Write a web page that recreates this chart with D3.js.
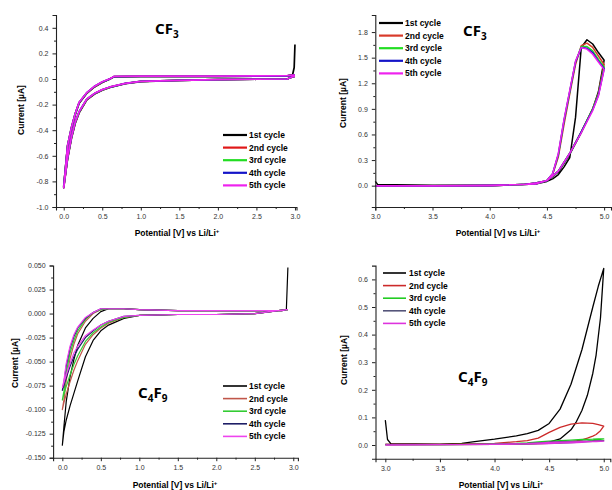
<!DOCTYPE html>
<html>
<head>
<meta charset="utf-8">
<script src="https://cdn.jsdelivr.net/npm/d3@7"></script>
<style>
body { margin: 0; background: #fff; }
</style>
</head>
<body>
<div id="chart"></div>
<script>
// cycle names shared by all four panels
var cycleNames = ["1st cycle", "2nd cycle", "3rd cycle", "4th cycle", "5th cycle"];

// CF3, reduction sweep 3.0 -> 0.0 -> 3.0 V
var cf3RedV = [3.0, 2.98, 2.9, 2.5, 2.0, 1.5, 1.0, 0.8, 0.6, 0.5, 0.4, 0.3, 0.2, 0.15, 0.1, 0.05, 0.0,
               0.05, 0.1, 0.15, 0.2, 0.3, 0.4, 0.5, 0.6, 0.65, 1.0, 1.5, 2.0, 2.5, 2.9, 2.97, 2.99, 3.0];
var cf3RedI1 = [0.02, 0.02, 0.0, -0.002, -0.005, -0.01, -0.02, -0.036, -0.066, -0.087, -0.117, -0.163, -0.265, -0.345, -0.465, -0.625, -0.85,
                -0.53, -0.39, -0.28, -0.19, -0.112, -0.062, -0.027, 0.0, 0.017, 0.02, 0.02, 0.02, 0.022, 0.025, 0.035, 0.09, 0.27];
var cf3RedI2 = [0.02, 0.02, 0.0, -0.002, -0.005, -0.01, -0.019, -0.035, -0.064, -0.085, -0.115, -0.16, -0.26, -0.34, -0.46, -0.62, -0.84,
                -0.52, -0.38, -0.27, -0.185, -0.11, -0.06, -0.025, 0.0, 0.018, 0.02, 0.02, 0.02, 0.022, 0.025, 0.028, 0.03, 0.03];
var cf3RedI3 = [0.02, 0.02, 0.0, -0.002, -0.005, -0.01, -0.019, -0.035, -0.064, -0.085, -0.114, -0.158, -0.258, -0.338, -0.458, -0.618, -0.84,
                -0.52, -0.38, -0.27, -0.184, -0.108, -0.058, -0.024, 0.0, 0.018, 0.02, 0.02, 0.02, 0.022, 0.025, 0.028, 0.03, 0.03];
var cf3RedI4 = [0.02, 0.02, 0.0, -0.002, -0.005, -0.01, -0.019, -0.034, -0.063, -0.084, -0.113, -0.157, -0.256, -0.336, -0.456, -0.616, -0.84,
                -0.52, -0.38, -0.27, -0.183, -0.107, -0.057, -0.023, 0.001, 0.018, 0.02, 0.02, 0.02, 0.022, 0.025, 0.028, 0.03, 0.03];
var cf3RedI5 = [0.02, 0.02, 0.0, -0.002, -0.005, -0.01, -0.018, -0.034, -0.062, -0.083, -0.112, -0.156, -0.255, -0.335, -0.455, -0.615, -0.85,
                -0.52, -0.38, -0.27, -0.182, -0.106, -0.056, -0.022, 0.002, 0.02, 0.022, 0.022, 0.022, 0.024, 0.027, 0.03, 0.03, 0.03];

// CF3, oxidation sweep 3.0 -> 5.0 -> 3.0 V
var cf3OxV = [3.0, 3.02, 3.5, 4.0, 4.3, 4.4, 4.5, 4.6, 4.7, 4.8, 4.9, 4.95, 5.0,
              4.95, 4.9, 4.85, 4.8, 4.75, 4.7, 4.65, 4.6, 4.55, 4.5, 4.4, 4.0, 3.5, 3.0];
var cf3OxI1 = [0.05, 0.015, 0.005, 0.006, 0.015, 0.028, 0.055, 0.16, 0.37, 0.62, 0.9, 1.1, 1.47,
               1.56, 1.66, 1.71, 1.62, 0.8, 0.33, 0.22, 0.13, 0.08, 0.05, 0.02, 0.0, -0.003, -0.005];
var cf3OxI2 = [0.0, 0.0, 0.0, 0.005, 0.015, 0.03, 0.058, 0.17, 0.38, 0.63, 0.9, 1.08, 1.42,
               1.52, 1.62, 1.67, 1.64, 1.42, 1.08, 0.72, 0.34, 0.13, 0.06, 0.02, 0.0, -0.004, -0.005];
var cf3OxI3 = [0.0, 0.0, 0.0, 0.005, 0.015, 0.03, 0.058, 0.17, 0.38, 0.63, 0.9, 1.07, 1.39,
               1.48, 1.58, 1.63, 1.63, 1.45, 1.1, 0.76, 0.36, 0.14, 0.06, 0.02, 0.0, -0.004, -0.005];
var cf3OxI4 = [0.0, 0.0, 0.0, 0.005, 0.015, 0.03, 0.058, 0.17, 0.38, 0.63, 0.89, 1.06, 1.37,
               1.46, 1.56, 1.61, 1.62, 1.45, 1.11, 0.77, 0.37, 0.14, 0.06, 0.02, 0.0, -0.004, -0.005];
var cf3OxI5 = [0.0, 0.0, 0.0, 0.005, 0.015, 0.03, 0.06, 0.17, 0.38, 0.62, 0.88, 1.05, 1.36,
               1.45, 1.54, 1.6, 1.62, 1.46, 1.12, 0.78, 0.38, 0.14, 0.06, 0.02, 0.0, -0.004, -0.005];

// C4F9, reduction sweep ~2.93 -> 0.0 -> 2.93 V
var c4f9RedV = [2.93, 2.91, 2.5, 2.0, 1.5, 1.0, 0.8, 0.6, 0.5, 0.4, 0.3, 0.2, 0.15, 0.1, 0.05, 0.02, 0.0,
                0.02, 0.05, 0.1, 0.15, 0.2, 0.3, 0.4, 0.5, 0.6, 0.8, 1.0, 1.5, 2.0, 2.5, 2.85, 2.91, 2.93];
var c4f9RedI1 = [0.048, 0.004, 0.0, -0.001, -0.001, -0.002, -0.005, -0.012, -0.018, -0.028, -0.045, -0.07, -0.083, -0.096, -0.111, -0.123, -0.137,
                 -0.118, -0.092, -0.066, -0.048, -0.033, -0.015, -0.005, 0.002, 0.005, 0.005, 0.004, 0.003, 0.003, 0.003, 0.003, 0.004, 0.004];
var c4f9RedI2 = [0.004, 0.004, 0.0, -0.001, -0.001, -0.002, -0.004, -0.01, -0.015, -0.022, -0.032, -0.049, -0.059, -0.071, -0.084, -0.093, -0.1,
                 -0.09, -0.07, -0.047, -0.032, -0.021, -0.008, 0.0, 0.004, 0.005, 0.005, 0.004, 0.003, 0.003, 0.003, 0.003, 0.004, 0.004];
var c4f9RedI3 = [0.004, 0.004, 0.0, -0.001, -0.001, -0.002, -0.004, -0.009, -0.014, -0.02, -0.029, -0.044, -0.053, -0.064, -0.076, -0.084, -0.09,
                 -0.081, -0.062, -0.041, -0.028, -0.018, -0.006, 0.001, 0.004, 0.005, 0.005, 0.004, 0.003, 0.003, 0.003, 0.003, 0.004, 0.004];
var c4f9RedI4 = [0.004, 0.004, 0.0, -0.001, -0.001, -0.002, -0.003, -0.008, -0.012, -0.018, -0.025, -0.037, -0.045, -0.055, -0.067, -0.075, -0.08,
                 -0.072, -0.055, -0.036, -0.024, -0.015, -0.005, 0.001, 0.005, 0.005, 0.005, 0.004, 0.003, 0.003, 0.003, 0.003, 0.004, 0.004];
var c4f9RedI5 = [0.004, 0.004, 0.0, -0.001, -0.001, -0.002, -0.003, -0.008, -0.012, -0.017, -0.023, -0.034, -0.041, -0.052, -0.064, -0.072, -0.077,
                 -0.07, -0.052, -0.034, -0.022, -0.014, -0.004, 0.001, 0.005, 0.005, 0.005, 0.004, 0.003, 0.003, 0.003, 0.003, 0.004, 0.004];

// C4F9, oxidation sweep 3.0 -> 5.0 -> 3.0 V
var c4f9OxV = [3.0, 3.02, 3.05, 3.5, 3.7, 3.8, 4.0, 4.2, 4.3, 4.4, 4.5, 4.6, 4.7, 4.8, 4.9, 4.95, 5.0,
               4.97, 4.93, 4.9, 4.85, 4.8, 4.75, 4.7, 4.6, 4.5, 4.4, 4.2, 4.0, 3.5, 3.0];
var c4f9OxI1 = [0.09, 0.02, 0.005, 0.003, 0.006, 0.011, 0.021, 0.033, 0.041, 0.053, 0.078, 0.13, 0.22, 0.345, 0.5, 0.575, 0.64,
                0.46, 0.326, 0.26, 0.18, 0.125, 0.085, 0.055, 0.022, 0.01, 0.006, 0.004, 0.003, 0.002, 0.002];
var c4f9OxI2 = [0.002, 0.002, 0.002, 0.002, 0.003, 0.004, 0.006, 0.012, 0.016, 0.025, 0.046, 0.064, 0.076, 0.08, 0.078, 0.074, 0.068,
                0.052, 0.038, 0.032, 0.025, 0.019, 0.015, 0.012, 0.009, 0.006, 0.005, 0.003, 0.002, 0.001, 0.001];
var c4f9OxI3 = [0.001, 0.001, 0.001, 0.001, 0.002, 0.002, 0.004, 0.006, 0.008, 0.011, 0.014, 0.016, 0.018, 0.02, 0.021, 0.022, 0.022,
                0.02, 0.018, 0.016, 0.014, 0.013, 0.012, 0.011, 0.009, 0.007, 0.006, 0.004, 0.003, 0.001, 0.001];
var c4f9OxI4 = [0.001, 0.001, 0.001, 0.001, 0.001, 0.002, 0.003, 0.005, 0.006, 0.008, 0.01, 0.012, 0.013, 0.014, 0.015, 0.016, 0.016,
                0.015, 0.014, 0.013, 0.012, 0.011, 0.01, 0.009, 0.007, 0.006, 0.005, 0.003, 0.002, 0.001, 0.001];
var c4f9OxI5 = [0.0, 0.0, 0.0, 0.001, 0.001, 0.002, 0.003, 0.004, 0.005, 0.007, 0.009, 0.01, 0.011, 0.012, 0.013, 0.014, 0.014,
                0.013, 0.012, 0.012, 0.011, 0.01, 0.009, 0.008, 0.007, 0.005, 0.004, 0.003, 0.002, 0.001, 0.0];

// axis ticks
var xTicksRed = [0.0, 0.5, 1.0, 1.5, 2.0, 2.5, 3.0];
var xTicksOx = [3.0, 3.5, 4.0, 4.5, 5.0];
var yTicksP1 = [-1.0, -0.8, -0.6, -0.4, -0.2, 0.0, 0.2, 0.4];
var yTicksP2 = [0.0, 0.3, 0.6, 0.9, 1.2, 1.5, 1.8];
var yTicksP3 = [-0.15, -0.125, -0.1, -0.075, -0.05, -0.025, 0.0, 0.025, 0.05];
var yTicksP4 = [0.0, 0.1, 0.2, 0.3, 0.4, 0.5, 0.6];

var svg = d3.select("#chart").append("svg")
	.attr("width", 612)
	.attr("height", 490)
	.style("font-family", "'Liberation Sans', Arial, sans-serif");

var panels = [
	{ v: cf3RedV, cur: [cf3RedI1, cf3RedI2, cf3RedI3, cf3RedI4, cf3RedI5],
	  xd: [-0.1, 3.02], xr: [56, 296.5], yd: [-1.0, 0.5], yr: [207, 15],
	  xt: xTicksRed, xm: 0.25, yt: yTicksP1, ym: 0.1, fmt: 1,
	  colors: ["#000000", "#e01818", "#22dd22", "#1414c8", "#ee22ee"], lw: 1.7, legW: 2.2,
	  title: ["CF", "3"], tx: 155, ty: 34,
	  leg: [223, 247, 249, 135], xl: [177, 233], yl: [21, 110] },
	{ v: cf3OxV, cur: [cf3OxI1, cf3OxI2, cf3OxI3, cf3OxI4, cf3OxI5],
	  xd: [3.0, 5.06], xr: [375.3, 611], yd: [-0.25, 2.0], yr: [207, 15],
	  xt: xTicksOx, xm: 0.25, yt: yTicksP2, ym: 0.15, fmt: 1,
	  colors: ["#000000", "#d83a2a", "#22dd22", "#1414c8", "#ee22ee"], lw: 1.5, legW: 2.2,
	  title: ["CF", "3"], tx: 463, ty: 36,
	  leg: [379, 403, 405, 23], xl: [498, 233], yl: [343, 103] },
	{ v: c4f9RedV, cur: [c4f9RedI1, c4f9RedI2, c4f9RedI3, c4f9RedI4, c4f9RedI5],
	  xd: [-0.12, 3.06], xr: [53.1, 297.9], yd: [-0.15, 0.05], yr: [457.7, 265.5],
	  xt: xTicksRed, xm: 0.25, yt: yTicksP3, ym: 0.0125, fmt: 3,
	  colors: ["#000000", "#c0564a", "#33cc33", "#1e1e66", "#ee44ee"], lw: 1.2, legW: 1.6,
	  title: ["C", "4", "F", "9"], tx: 138, ty: 398,
	  leg: [223, 247, 249, 386], xl: [175, 485], yl: [15, 363] },
	{ v: c4f9OxV, cur: [c4f9OxI1, c4f9OxI2, c4f9OxI3, c4f9OxI4, c4f9OxI5],
	  xd: [2.91, 5.06], xr: [375.5, 610.3], yd: [-0.05, 0.65], yr: [458.8, 265.6],
	  xt: xTicksOx, xm: 0.25, yt: yTicksP4, ym: 0.05, fmt: 1,
	  colors: ["#000000", "#cc2a2a", "#22cc22", "#55557a", "#dd33dd"], lw: 1.3, legW: 1.6,
	  title: ["C", "4", "F", "9"], tx: 458, ty: 382,
	  leg: [383, 406, 409, 273], xl: [501, 485], yl: [344, 360] }
];

// minor ticks between the majors
function minorTicks(major, step) {
	var out = [];
	for (var i = 0; i < major.length - 1; i++) {
		out.push(major[i] + step);
		if (Math.abs(major[i + 1] - major[i] - 2 * step) > 1e-9) out.push(major[i] + 2 * step);
	}
	return out;
}

panels.forEach(function(p) {
	var x = d3.scaleLinear().domain(p.xd).range(p.xr);
	var y = d3.scaleLinear().domain(p.yd).range(p.yr);
	var g = svg.append("g");

	// curves, 1st cycle first so the 5th ends on top
	var line = d3.line()
		.x(function(d) { return x(d[0]); })
		.y(function(d) { return y(d[1]); });
	p.cur.forEach(function(ci, k) {
		var pts = p.v.map(function(v, i) { return [v, ci[i]]; });
		g.append("path")
			.datum(pts)
			.attr("d", line)
			.attr("fill", "none")
			.attr("stroke", p.colors[k])
			.attr("stroke-width", p.lw)
			.attr("stroke-linejoin", "round");
	});

	// axes
	var xAxis = g.append("g")
		.attr("transform", "translate(0," + p.yr[0] + ")")
		.call(d3.axisBottom(x).tickValues(p.xt).tickSize(3.5).tickPadding(4)
			.tickFormat(function(d) { return d.toFixed(1); }));
	g.append("g")
		.attr("transform", "translate(0," + p.yr[0] + ")")
		.call(d3.axisBottom(x).tickValues(minorTicks(p.xt, p.xm)).tickSize(2).tickFormat(""))
		.select(".domain").remove();
	var yAxis = g.append("g")
		.attr("transform", "translate(" + p.xr[0] + ",0)")
		.call(d3.axisLeft(y).tickValues(p.yt).tickSize(3.5).tickPadding(4)
			.tickFormat(function(d) { return d.toFixed(p.fmt); }));
	g.append("g")
		.attr("transform", "translate(" + p.xr[0] + ",0)")
		.call(d3.axisLeft(y).tickValues(minorTicks(p.yt, p.ym)).tickSize(2).tickFormat(""))
		.select(".domain").remove();

	g.selectAll(".domain").attr("stroke", "#222").attr("stroke-width", 1.1);
	g.selectAll(".tick line").attr("stroke", "#222");
	[xAxis, yAxis].forEach(function(a) {
		a.selectAll("text")
			.attr("fill", "#333")
			.style("font-size", "7px")
			.style("font-family", "'Liberation Sans', Arial, sans-serif");
	});

	// axis titles
	var xt = g.append("text")
		.attr("x", p.xl[0]).attr("y", p.xl[1] + 3)
		.attr("text-anchor", "middle")
		.style("font-size", "8.5px").style("font-weight", "bold")
		.text("Potential [V] vs Li/Li");
	xt.append("tspan").attr("dy", -3).style("font-size", "6px").text("+");

	g.append("text")
		.attr("transform", "translate(" + p.yl[0] + "," + p.yl[1] + ") rotate(-90)")
		.attr("text-anchor", "middle")
		.attr("dy", "0.35em")
		.style("font-size", "8.5px").style("font-weight", "bold")
		.text("Current [\u00b5A]");

	// panel title with subscripts
	var t = g.append("text")
		.attr("x", p.tx).attr("y", p.ty)
		.style("font-family", "'Noto Sans', 'Open Sans', sans-serif")
		.style("font-size", "15px").style("font-weight", "bold");
	for (var i = 0; i < p.title.length; i++) {
		var sub = i % 2 == 1;
		t.append("tspan")
			.attr("dy", sub ? 4 : (i > 0 ? -4 : 0))
			.style("font-size", sub ? "10px" : "15px")
			.text(p.title[i]);
	}

	// legend
	cycleNames.forEach(function(name, k) {
		var ly = p.leg[3] + k * 12.6;
		g.append("line")
			.attr("x1", p.leg[0]).attr("x2", p.leg[1])
			.attr("y1", ly).attr("y2", ly)
			.attr("stroke", p.colors[k])
			.attr("stroke-width", p.legW);
		g.append("text")
			.attr("x", p.leg[2]).attr("y", ly + 3)
			.style("font-size", "8.5px").style("font-weight", "bold")
			.text(name);
	});
});
</script>
</body>
</html>
